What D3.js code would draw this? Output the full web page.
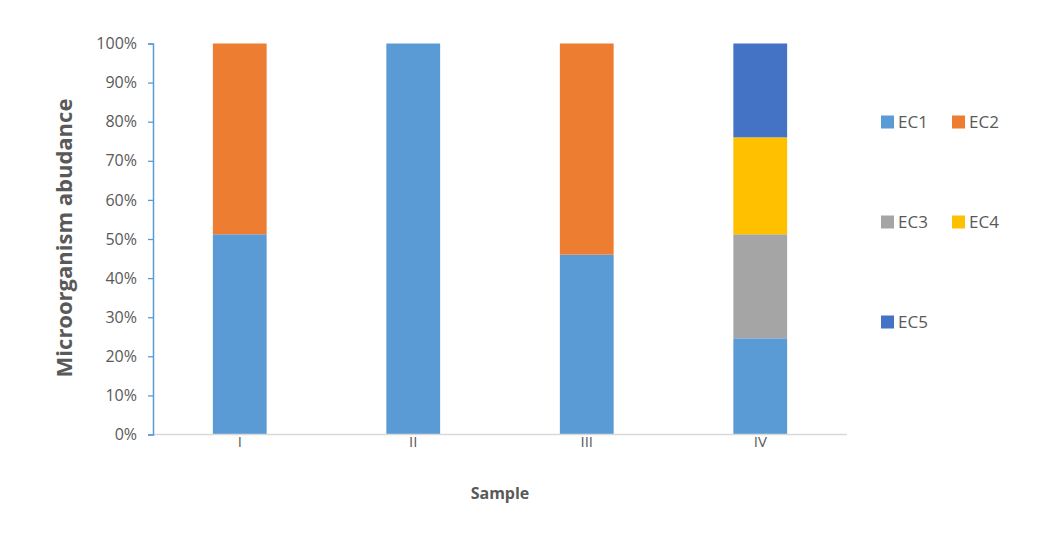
<!DOCTYPE html>
<html>
<head>
<meta charset="utf-8">
<script src="https://cdn.jsdelivr.net/npm/d3@7"></script>
<style>
  body { margin: 0; background: #fff; }
  text { font-family: "Open Sans", "Noto Sans", sans-serif; }
</style>
</head>
<body>
<div id="chart"></div>
<script>
// data (shares, %)
const samples = ["I", "II", "III", "IV"];
const seriesNames = ["EC1", "EC2", "EC3", "EC4", "EC5"];
const ec1 = [51.2, 100, 46, 24.6];
const ec2 = [48.8, 0, 54, 0];
const ec3 = [0, 0, 0, 26.6];
const ec4 = [0, 0, 0, 24.8];
const ec5 = [0, 0, 0, 24];
const yTicks = [0, 10, 20, 30, 40, 50, 60, 70, 80, 90, 100];
const colors = ["#5b9bd5", "#ed7d31", "#a5a5a5", "#ffc000", "#4472c4"];

const width = 1058, height = 560;
const plotLeft = 153, plotRight = 847, plotTop = 43.5, plotBottom = 434.5;

const svg = d3.select("#chart").append("svg")
  .attr("width", width).attr("height", height);

// build rows for stacking
const rows = samples.map((s, i) => ({
  sample: s, EC1: ec1[i], EC2: ec2[i], EC3: ec3[i], EC4: ec4[i], EC5: ec5[i]
}));
const stacked = d3.stack().keys(seriesNames)(rows);

const x = d3.scaleBand().domain(samples).range([plotLeft, plotRight]).paddingInner(0.69).paddingOuter(0.345);
const y = d3.scaleLinear().domain([0, 100]).range([plotBottom, plotTop]);
const color = d3.scaleOrdinal().domain(seriesNames).range(colors);

// bars
svg.append("g").selectAll("g")
  .data(stacked).enter().append("g")
  .attr("fill", d => color(d.key))
  .selectAll("rect")
  .data(d => d).enter().append("rect")
  .attr("x", d => x(d.data.sample))
  .attr("width", x.bandwidth())
  .attr("y", d => y(d[1]))
  .attr("height", d => y(d[0]) - y(d[1]));

// x axis
const xAxis = svg.append("g")
  .attr("transform", `translate(0, ${plotBottom})`)
  .call(d3.axisBottom(x).tickSize(0).tickPadding(2));
xAxis.select(".domain").attr("stroke", "#d9d9d9").attr("stroke-width", 1.3)
  .attr("d", `M${plotLeft},0H${plotRight}`);
xAxis.selectAll("text").attr("fill", "#595959").style("font-size", "15px")
  .style("font-family", "'Open Sans', sans-serif");

// y axis (blue line with outside ticks)
const yAxis = svg.append("g")
  .attr("transform", `translate(${plotLeft}, 0)`)
  .call(d3.axisLeft(y).tickValues(yTicks).tickFormat(d => d + "%").tickSize(5).tickSizeOuter(5).tickPadding(11));
yAxis.select(".domain").attr("stroke", "#5b9bd5").attr("stroke-width", 1.5);
yAxis.selectAll(".tick line").attr("stroke", "#5b9bd5").attr("stroke-width", 1.3);
yAxis.selectAll("text").attr("fill", "#595959").style("font-size", "16px")
  .style("font-family", "'Open Sans', sans-serif");

// axis titles
svg.append("text")
  .attr("transform", "translate(72, 238) rotate(-90)")
  .attr("text-anchor", "middle")
  .attr("fill", "#595959")
  .style("font-size", "22px").style("font-weight", "bold")
  .text("Microorganism abudance");

svg.append("text")
  .attr("x", 500).attr("y", 499)
  .attr("text-anchor", "middle")
  .attr("fill", "#595959")
  .style("font-size", "16px").style("font-weight", "bold")
  .text("Sample");

// legend: 3 rows
const legendItems = [
  { key: "EC1", x: 881, y: 122 }, { key: "EC2", x: 952, y: 122 },
  { key: "EC3", x: 881, y: 222 }, { key: "EC4", x: 952, y: 222 },
  { key: "EC5", x: 881, y: 322 }
];
const lg = svg.append("g").selectAll("g").data(legendItems).enter().append("g")
  .attr("transform", d => `translate(${d.x}, ${d.y})`);
lg.append("rect").attr("x", 0).attr("y", -6.5).attr("width", 13).attr("height", 13)
  .attr("fill", d => color(d.key));
lg.append("text").attr("x", 17).attr("y", 6).attr("fill", "#595959")
  .style("font-size", "17px").text(d => d.key);
</script>
</body>
</html>
